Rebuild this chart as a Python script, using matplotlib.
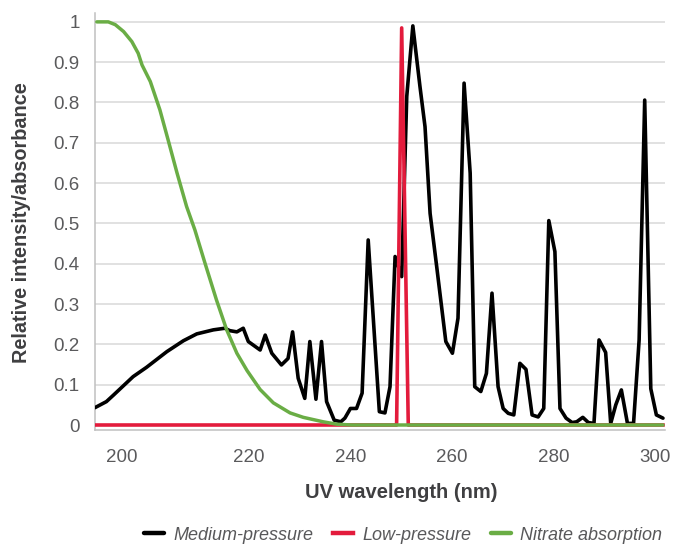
import numpy as np
import matplotlib
matplotlib.use("Agg")
import matplotlib.pyplot as plt

# wavelength (nm) and relative intensity
medium_nm = [195.8, 197.6, 198.7, 201.8, 203.9, 207.1, 209.7, 211.8, 214.4, 216.2,
             217.0, 218.1, 219.1, 219.9, 222.2, 223.2, 224.5, 226.4, 227.7, 228.6,
             229.7, 231.0, 232.0, 233.2, 234.3, 235.3, 236.8, 238.1, 238.9, 240.0,
             241.2, 242.3, 243.5, 245.7, 246.8, 247.8, 248.8, 250.1, 251.1, 252.3,
             253.7, 254.7, 255.7, 257.0, 258.8, 260.1, 261.2, 262.4, 263.6, 264.5,
             265.7, 266.8, 267.9, 269.1, 270.1, 271.1, 272.2, 273.4, 274.6, 275.8,
             277.0, 278.1, 279.1, 280.3, 281.3, 282.5, 283.7, 284.6, 285.8, 286.9,
             288.0, 289.0, 290.3, 291.3, 292.3, 293.4, 294.6, 295.8, 296.9, 298.0,
             299.2, 300.3, 301.6]
medium_val = [0.043, 0.058, 0.074, 0.120, 0.143, 0.182, 0.209, 0.226, 0.236, 0.240,
              0.234, 0.231, 0.240, 0.207, 0.186, 0.223, 0.178, 0.149, 0.165, 0.231,
              0.116, 0.066, 0.207, 0.064, 0.207, 0.058, 0.012, 0.008, 0.017, 0.041,
              0.041, 0.079, 0.459, 0.033, 0.030, 0.095, 0.418, 0.368, 0.815, 0.990,
              0.840, 0.740, 0.525, 0.393, 0.207, 0.178, 0.265, 0.848, 0.625, 0.095,
              0.083, 0.128, 0.327, 0.095, 0.041, 0.029, 0.025, 0.153, 0.138, 0.025,
              0.020, 0.041, 0.507, 0.430, 0.041, 0.017, 0.006, 0.008, 0.019, 0.006,
              0.004, 0.211, 0.180, 0.004, 0.050, 0.087, 0.004, 0.004, 0.211, 0.806,
              0.090, 0.025, 0.017]

low_nm = [195.8, 249.1, 250.1, 251.4, 301.6]
low_val = [0.0, 0.0, 0.985, 0.0, 0.0]

nitrate_nm = [196.1, 197.9, 199.0, 200.3, 201.6, 202.6, 203.2, 204.5, 206.0, 207.3,
              208.7, 210.2, 211.5, 213.1, 214.9, 216.5, 218.1, 219.7, 222.2, 224.8,
              228.1, 230.7, 234.6, 237.3, 240.3, 301.6]
nitrate_val = [1.0, 1.0, 0.993, 0.976, 0.951, 0.922, 0.893, 0.852, 0.782, 0.707,
               0.625, 0.542, 0.484, 0.401, 0.310, 0.236, 0.178, 0.135, 0.088, 0.055,
               0.030, 0.019, 0.008, 0.002, 0.0, 0.0]

x_ticks = [200, 220, 240, 260, 280, 300]
y_ticks = [0, 0.1, 0.2, 0.3, 0.4, 0.5, 0.6, 0.7, 0.8, 0.9, 1]
y_labels = ["0", "0.1", "0.2", "0.3", "0.4", "0.5", "0.6", "0.7", "0.8", "0.9", "1"]

plt.rcParams["font.family"] = ["Liberation Sans", "DejaVu Sans"]

# the original axis is stretched below 220 nm
def fwd(x):
    x = np.asarray(x, dtype=float)
    return np.where(x < 220, 220 - (220 - x) * 1.2545, x)

def inv(u):
    u = np.asarray(u, dtype=float)
    return np.where(u < 220, 220 - (220 - u) / 1.2545, u)

fig = plt.figure(figsize=(6.84, 5.45), dpi=100)
ax = fig.add_axes([0.13889, 0.21101, 0.83333, 0.76514])
ax.set_xscale("function", functions=(fwd, inv))

l1, = ax.plot(medium_nm, medium_val, color="black", lw=2.6, solid_joinstyle="round",
              solid_capstyle="round", label="Medium-pressure", zorder=3)
l2, = ax.plot(low_nm, low_val, color="#e31b3c", lw=2.6, solid_joinstyle="round",
              label="Low-pressure", zorder=4)
l3, = ax.plot(nitrate_nm, nitrate_val, color="#6aad45", lw=2.5, solid_joinstyle="round",
              solid_capstyle="round", label="Nitrate absorption", zorder=5)

ax.set_xlim(195.81, 302.0)
ax.set_ylim(-0.0124, 1.022)
ax.set_xticks(x_ticks)
ax.set_xticklabels([str(t) for t in x_ticks])
ax.xaxis.set_minor_locator(matplotlib.ticker.NullLocator())
ax.set_yticks(y_ticks)
ax.set_yticklabels(y_labels)
ax.tick_params(axis="both", length=0, labelsize=13.5, labelcolor="#5a5a5c")
ax.tick_params(axis="y", pad=11)
ax.tick_params(axis="x", pad=14)

ax.grid(axis="y", color="#d9d9d9", lw=1.1)
ax.set_axisbelow(True)
for s in ["top", "right"]:
    ax.spines[s].set_visible(False)
for s in ["left", "bottom"]:
    ax.spines[s].set_color("#c0c0c0")
    ax.spines[s].set_linewidth(1.1)

fig.text(22 / 684, 1 - 223 / 545, "Relative intensity/absorbance", rotation=90,
         ha="center", va="center", fontsize=14.3, fontweight="bold", color="#3f3f41")
fig.text(401 / 684, 1 - 493 / 545, "UV wavelength (nm)", ha="center", va="center",
         fontsize=14.5, fontweight="bold", color="#3f3f41")

leg = fig.legend(handles=[l1, l2, l3], loc="center", bbox_to_anchor=(403 / 684, 1 - 535 / 545),
                 ncol=3, frameon=False, handlelength=1.1, handletextpad=0.5,
                 columnspacing=1.1, prop={"style": "italic", "size": 13})
for t in leg.get_texts():
    t.set_color("#58585a")
for h in leg.legend_handles:
    h.set_linewidth(3.2)

fig.savefig("out.png", dpi=100)
